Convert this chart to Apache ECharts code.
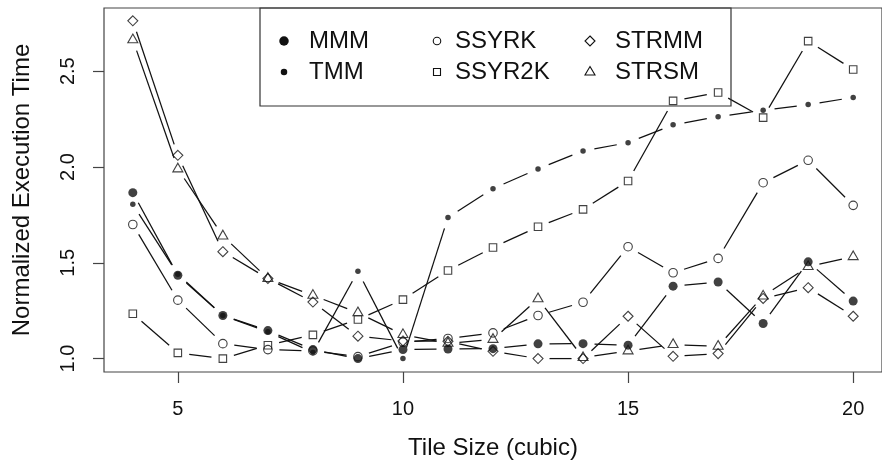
<!DOCTYPE html>
<html><head><meta charset="utf-8">
<script src="https://cdn.jsdelivr.net/npm/echarts@6/dist/echarts.min.js"></script>
<style>html,body{margin:0;padding:0;background:#fff}#c{width:882px;height:465px}</style>
</head><body><div id="c"></div>
<script>
// ---- data ----
const tileSizes = [4,5,6,7,8,9,10,11,12,13,14,15,16,17,18,19,20];
const mmm    = [1.866,1.435,1.225,1.146,1.047,1.000,1.047,1.050,1.052,1.077,1.078,1.070,1.378,1.400,1.183,1.505,1.300];
const tmm    = [1.805,1.440,1.225,1.140,1.032,1.456,1.000,1.737,1.887,1.990,2.084,2.127,2.220,2.263,2.296,2.326,2.363];
const ssyrk  = [1.700,1.305,1.078,1.047,1.040,1.010,1.085,1.105,1.134,1.225,1.294,1.584,1.448,1.523,1.918,2.035,1.800];
const ssyr2k = [1.234,1.030,1.000,1.070,1.124,1.204,1.308,1.460,1.580,1.688,1.779,1.927,2.345,2.389,2.258,2.657,2.509];
const strmm  = [2.763,2.061,1.558,1.418,1.295,1.117,1.092,1.090,1.038,1.000,1.000,1.221,1.012,1.026,1.314,1.370,1.221];
const strsm  = [2.664,1.990,1.640,1.418,1.330,1.239,1.125,1.080,1.100,1.312,1.005,1.040,1.073,1.064,1.326,1.480,1.532];
const seriesNames = ['MMM','TMM','SSYRK','SSYR2K','STRMM','STRSM'];
const xTicks = [5,10,15,20];
const yTicks = [1.0,1.5,2.0,2.5];
const xTitle = 'Tile Size (cubic)';
const yTitle = 'Normalized Execution Time';

// ---- styling ----
const INK = '#111';
const FONT = '"Liberation Sans", Arial, Helvetica, sans-serif';
const GAP = 11.5;
const styles = {
  MMM:    {symbol:'circle',   size:9,      filled:true},
  TMM:    {symbol:'circle',   size:5.5,    filled:true},
  SSYRK:  {symbol:'circle',   size:8.5,    filled:false},
  SSYR2K: {symbol:'rect',     size:7.5,    filled:false},
  STRMM:  {symbol:'diamond',  size:10,     filled:false},
  STRSM:  {symbol:'triangle', size:[10,8.7], filled:false, offset:[0,-1.4]}
};
const valuesByName = {MMM:mmm, TMM:tmm, SSYRK:ssyrk, SSYR2K:ssyr2k, STRMM:strmm, STRSM:strsm};

function renderSeg(params, api){
  const p1 = api.coord([api.value(0), api.value(1)]);
  const p2 = api.coord([api.value(2), api.value(3)]);
  const dx = p2[0]-p1[0], dy = p2[1]-p1[1];
  const L = Math.hypot(dx, dy);
  if (L <= 2*GAP) return null;
  const ux = dx/L, uy = dy/L;
  return {type:'line', shape:{x1:p1[0]+ux*GAP, y1:p1[1]+uy*GAP, x2:p2[0]-ux*GAP, y2:p2[1]-uy*GAP},
          style:{stroke:INK, lineWidth:1.25}};
}

const series = [];
seriesNames.forEach(name => {
  const vals = valuesByName[name];
  const segs = [];
  for (let i = 0; i < tileSizes.length-1; i++) segs.push([tileSizes[i], vals[i], tileSizes[i+1], vals[i+1]]);
  series.push({type:'custom', name:name+'_line', renderItem:renderSeg, data:segs,
    encode:{x:[0,2], y:[1,3]}, silent:true, z:2});
});
seriesNames.forEach(name => {
  const st = styles[name];
  series.push({type:'scatter', name:name, data:tileSizes.map((x,i)=>[x, valuesByName[name][i]]),
    symbol:st.symbol, symbolSize:st.size, symbolOffset:st.offset||[0,0], z:3, silent:true,
    itemStyle: st.filled ? {color:INK, borderWidth:0} : {color:'rgba(0,0,0,0)', borderColor:INK, borderWidth:1.1}});
});

// ---- legend (drawn) ----
const legendItems = [
  {name:'MMM', sx:284, tx:309, y:41},
  {name:'TMM', sx:284, tx:309, y:72},
  {name:'SSYRK', sx:437, tx:455, y:41},
  {name:'SSYR2K', sx:437, tx:455, y:72},
  {name:'STRMM', sx:590, tx:615, y:41},
  {name:'STRSM', sx:590, tx:615, y:72}
];
const legendSizes = {MMM:9.5, TMM:6.5, SSYRK:7.5, SSYR2K:7, STRMM:10, STRSM:10};
const graphic = [{type:'rect', shape:{x:260, y:8, width:471, height:98}, style:{fill:null, stroke:'#333', lineWidth:1.2}, z:10}];
legendItems.forEach(it => {
  const s = legendSizes[it.name], x = it.sx, y = it.y, h = s/2;
  let el;
  if (it.name==='MMM' || it.name==='TMM') el = {type:'circle', shape:{cx:x, cy:y, r:h}, style:{fill:INK}};
  else if (it.name==='SSYRK') el = {type:'circle', shape:{cx:x, cy:y, r:h}, style:{fill:null, stroke:INK, lineWidth:1.1}};
  else if (it.name==='SSYR2K') el = {type:'rect', shape:{x:x-h, y:y-h, width:s, height:s}, style:{fill:null, stroke:INK, lineWidth:1.1}};
  else if (it.name==='STRMM') el = {type:'polygon', shape:{points:[[x,y-h],[x+h,y],[x,y+h],[x-h,y]]}, style:{fill:null, stroke:INK, lineWidth:1.1}};
  else el = {type:'polygon', shape:{points:[[x,y-5.5],[x+5,y+3],[x-5,y+3]]}, style:{fill:null, stroke:INK, lineWidth:1.1}};
  el.z = 10;
  graphic.push(el);
  graphic.push({type:'text', x:it.tx, y:y, z:10, style:{text:it.name, font:'24px '+FONT, fill:INK, textVerticalAlign:'middle', textAlign:'left'}});
});

const chart = echarts.init(document.getElementById('c'), null, {renderer:'canvas'});
chart.setOption({
  animation:false,
  backgroundColor:'#fff',
  grid:{left:104, top:8, width:781, height:364, show:true, borderColor:'#444', borderWidth:1.2, backgroundColor:'rgba(0,0,0,0)'},
  xAxis:{type:'value', min:3.36, max:20.64, splitLine:{show:false}, axisLine:{show:false},
    axisTick:{show:true, length:11, customValues:xTicks, lineStyle:{color:'#444', width:1.2}},
    axisLabel:{customValues:xTicks, fontSize:20, fontFamily:FONT, color:INK, margin:27},
    name:xTitle, nameLocation:'middle', nameGap:64, nameTextStyle:{fontSize:24, fontFamily:FONT, color:INK}},
  yAxis:{type:'value', min:0.93, max:2.83, splitLine:{show:false}, axisLine:{show:false},
    axisTick:{show:true, length:11, customValues:yTicks, lineStyle:{color:'#444', width:1.2}},
    axisLabel:{customValues:yTicks, fontSize:20, fontFamily:FONT, color:INK, rotate:90, margin:26,
      formatter:v=>v.toFixed(1)},
    name:yTitle, nameLocation:'middle', nameGap:70, nameRotate:90, nameTextStyle:{fontSize:24, fontFamily:FONT, color:INK}},
  graphic:graphic,
  series:series
});
</script></body></html>
